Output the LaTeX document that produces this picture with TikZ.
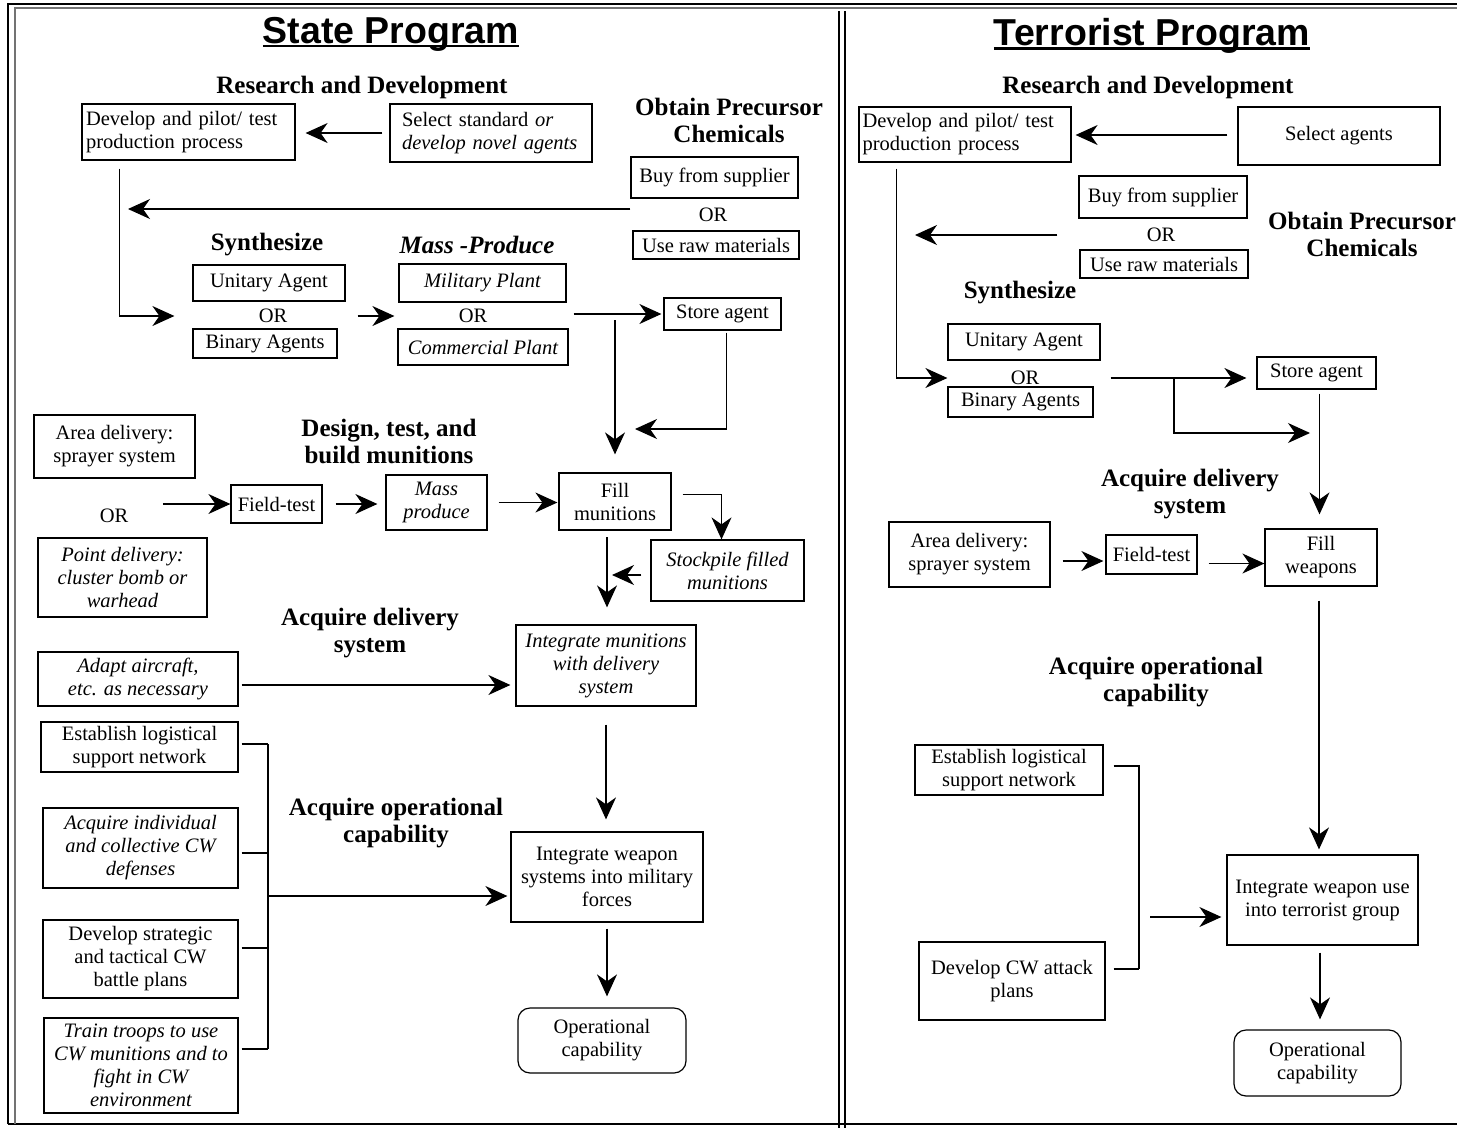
\documentclass[tikz,border=0pt]{standalone}
\usepackage{fontspec}
\setmainfont{Liberation Serif}
\newfontfamily\headsans{Liberation Sans}
\usetikzlibrary{arrows.meta}
\newcommand\titleline[1]{\setbox0\hbox{#1}\rlap{\rule[-4pt]{\wd0}{2.5pt}}\box0}

\begin{document}
\begin{tikzpicture}[x=1pt, y=-1pt,
    box/.style = {draw, line width=1.2pt, inner sep=2pt, align=center,
      font=\fontsize{20.5}{23}\selectfont},
    ibox/.style = {box, font=\fontsize{20.5}{23}\selectfont\itshape},
    rbox/.style = {box, rounded corners=12pt},
    head/.style = {align=center, font=\fontsize{25}{27}\selectfont\bfseries},
    ortext/.style = {font=\fontsize{20.5}{23}\selectfont},
    title/.style = {font=\headsans\bfseries\fontsize{37.5}{40}\selectfont},
    link/.style = {line width=1.2pt},
    arr/.style = {link, -{Stealth[length=22pt,width=20pt,inset=7pt]}}]
  \useasboundingbox (0,0) rectangle (1457,1130);
  \draw[line width=1.5pt] (8,1124) -- (8,4) -- (1460,4);
  \draw[line width=1.5pt] (8,1124) -- (1460,1124);
  \draw[line width=1.2pt, black!55] (15,1124) -- (15,8) -- (1460,8);
  \draw[line width=1.3pt] (839,11) -- (839,1128);
  \draw[line width=1.3pt] (845,11) -- (845,1128);

  \node[title] (stT) at (391,34) {\titleline{State Program}};
  \node[title] (trT) at (1152,36) {\titleline{Terrorist Program}};

  % state program
  \node[head] (rdS) at (362,87) {Research and Development};
  \node[head] (opcS) at (729,120) {Obtain Precursor\\Chemicals};
  \node[head] (synS) at (267,245) {Synthesize};
  \node[head] (mpS) at (477,245) {\itshape Mass -Produce};
  \node[head] (dtbS) at (389,441) {Design, test, and\\build munitions};
  \node[head] (adsS) at (370,633) {Acquire delivery\\system};
  \node[head] (aocS) at (396,823) {Acquire operational\\capability};

  \node[box, text width=205pt, align=left, minimum width=213, minimum height=56] (devS) at (188.5,132) {Develop and pilot/ test\\production process};
  \node[box, text width=178pt, align=left, minimum width=202, minimum height=58] (selS) at (491,133) {Select standard \textit{or}\\\textit{develop novel agents}};
  \node[box, minimum width=167, minimum height=41] (buyS) at (714.5,177.5) {Buy from supplier};
  \node[ortext] (orS1) at (713,215) {OR};
  \node[box, minimum width=166, minimum height=28] (rawS) at (716,245) {Use raw materials};
  \node[box, minimum width=152, minimum height=36] (uniS) at (269,283) {Unitary Agent};
  \node[ortext] (orS2) at (273,316) {OR};
  \node[box, minimum width=144, minimum height=29] (binS) at (265,343.5) {Binary Agents};
  \node[ibox, minimum width=167, minimum height=38] (milS) at (482.5,283) {Military Plant};
  \node[ortext] (orS3) at (473,316) {OR};
  \node[ibox, minimum width=170, minimum height=36] (comS) at (483,347) {Commercial Plant};
  \node[box, minimum width=117, minimum height=32] (storeS) at (722.5,314) {Store agent};
  \node[box, minimum width=161, minimum height=63] (areaS) at (114.5,446.5) {Area delivery:\\sprayer system};
  \node[ortext] (orS4) at (114,516) {OR};
  \node[ibox, minimum width=169, minimum height=79] (pointS) at (122.5,577.5) {Point delivery:\\cluster bomb or\\warhead};
  \node[box, minimum width=91, minimum height=38] (fieldS) at (276.5,504) {Field-test};
  \node[ibox, minimum width=101, minimum height=55] (mprodS) at (436.5,502.5) {Mass\\produce};
  \node[box, minimum width=112, minimum height=57] (fillS) at (615,501.5) {Fill\\munitions};
  \node[ibox, minimum width=153, minimum height=61] (stockS) at (727.5,570.5) {Stockpile filled\\munitions};
  \node[ibox, minimum width=200, minimum height=54] (adaptS) at (138,679) {Adapt aircraft,\\etc. as necessary};
  \node[ibox, minimum width=180, minimum height=81] (intmS) at (606,665.5) {Integrate munitions\\with delivery\\system};
  \node[box, minimum width=197, minimum height=50] (estS) at (139.5,747) {Establish logistical\\support network};
  \node[ibox, minimum width=195, minimum height=80] (indS) at (140.5,848) {Acquire individual\\and collective CW\\defenses};
  \node[box, minimum width=195, minimum height=78] (stratS) at (140.5,959) {Develop strategic\\and tactical CW\\battle plans};
  \node[ibox, minimum width=194, minimum height=95] (trainS) at (141,1065.5) {Train troops to use\\CW munitions and to\\fight in CW\\environment};
  \node[box, minimum width=192, minimum height=90] (intwS) at (607,877) {Integrate weapon\\systems into military\\forces};
  \node[rbox, minimum width=168, minimum height=65] (opS) at (602,1040.5) {Operational\\capability};

  \coordinate (preS) at (128,209);
  \coordinate (dropF) at (615,320);
  \coordinate (joinF) at (635,429);
  \coordinate (dropS) at (607,537);
  \coordinate (brS) at (268,896);

  \draw[arr, shorten <=7pt, shorten >=10pt] (selS.west) -- (selS.west -| devS.east);
  \draw[arr] (buyS.west |- preS) -- (preS);
  \draw[arr] ([xshift=38pt,yshift=-8pt]devS.south west) |- ([xshift=-18pt]uniS.west |- orS2);
  \draw[arr] ([xshift=12pt]uniS.east |- orS2) -- ([xshift=-4pt]milS.west |- orS2);
  \draw[arr, shorten >=2pt] ([xshift=5pt]comS.east |- storeS) -- (storeS.west);
  \draw[arr, shorten >=18pt] (dropF) -- (fillS.north);
  \draw[arr, shorten <=2pt] ([xshift=4pt]storeS.south) |- (joinF);
  \draw[arr] ([xshift=31pt]orS4.east |- fieldS) -- (fieldS.west);
  \draw[arr, shorten <=13pt, shorten >=8pt] (fieldS.east) -- (fieldS.east -| mprodS.west);
  \draw[arr, shorten <=11pt, shorten >=1pt] (mprodS.east) -- (mprodS.east -| fillS.west);
  \draw[arr] ([xshift=11pt,yshift=7pt]fillS.east) -| ([xshift=-6pt]stockS.north);
  \draw[arr, shorten >=17pt] (dropS) -- (dropS |- intmS.north);
  \draw[arr, shorten <=9pt, shorten >=5pt] ([yshift=-4.5pt]stockS.west) -- ([yshift=-4.5pt]stockS.west -| dropS);
  \draw[arr, shorten <=3pt, shorten >=5pt] ([yshift=-6pt]adaptS.east) -- ([yshift=-6pt]adaptS.east -| intmS.west);
  \draw[arr, shorten <=18pt, shorten >=12pt] (intmS.south) -- (intmS.south |- intwS.north);
  \draw[arr, shorten <=6pt, shorten >=11pt] (intwS.south) -- (intwS.south |- opS.north);
  \foreach \b/\yy in {estS/744, indS/853, stratS/948, trainS/1049}
    \draw[link, shorten <=3pt] (\b.east |- 0,\yy) -- (brS |- 0,\yy);
  \draw[link] (brS |- 0,744) -- (brS |- 0,1049);
  \draw[arr, shorten >=3pt] (brS) -- (brS -| intwS.west);

  % terrorist program
  \node[head] (rdT) at (1148,87) {Research and Development};
  \node[head] (opcT) at (1362,234) {Obtain Precursor\\Chemicals};
  \node[head] (synT) at (1020,293) {Synthesize};
  \node[head] (adsT) at (1190,494) {Acquire delivery\\system};
  \node[head] (aocT) at (1156,682) {Acquire operational\\capability};

  \node[box, text width=205pt, align=left, minimum width=212, minimum height=55] (devT) at (965,134.5) {Develop and pilot/ test\\production process};
  \node[box, minimum width=202, minimum height=58] (selT) at (1339,136) {Select agents};
  \node[box, minimum width=168, minimum height=42] (buyT) at (1163,197) {Buy from supplier};
  \node[ortext] (orT1) at (1161,235) {OR};
  \node[box, minimum width=168, minimum height=28] (rawT) at (1164,264) {Use raw materials};
  \node[box, minimum width=152, minimum height=36] (uniT) at (1024,342) {Unitary Agent};
  \node[ortext] (orT2) at (1025,378) {OR};
  \node[box, minimum width=145, minimum height=30] (binT) at (1020.5,402) {Binary Agents};
  \node[box, minimum width=119, minimum height=32] (storeT) at (1316.5,373) {Store agent};
  \node[box, minimum width=161, minimum height=65] (areaT) at (969.5,554.5) {Area delivery:\\sprayer system};
  \node[box, minimum width=91, minimum height=39] (fieldT) at (1151.5,554.5) {Field-test};
  \node[box, minimum width=112, minimum height=57] (fillT) at (1321,557.5) {Fill\\weapons};
  \node[box, minimum width=188, minimum height=50] (estT) at (1009,770) {Establish logistical\\support network};
  \node[box, minimum width=186, minimum height=78] (cwT) at (1012,981) {Develop CW attack\\plans};
  \node[box, minimum width=191, minimum height=90] (intT) at (1322.5,900) {Integrate weapon use\\into terrorist group};
  \node[rbox, minimum width=167, minimum height=66] (opT) at (1317.5,1063) {Operational\\capability};

  \coordinate (preT) at (915,235);
  \coordinate (forkT) at (1174,378);
  \coordinate (joinT) at (1310,433);
  \coordinate (brT) at (1139,917);

  \draw[arr, shorten <=10pt, shorten >=4pt] (selT.west |- 0,135) -- (devT.east |- 0,135);
  \draw[arr, shorten <=21pt] (buyT.west |- orT1) -- (preT);
  \draw[arr] ([xshift=38pt,yshift=-6pt]devT.south west) |- (uniT.west |- orT2);
  \draw[arr, shorten >=10pt] ([xshift=10pt]uniT.east |- orT2) -- (storeT.west |- orT2);
  \draw[arr] (forkT) |- (joinT);
  \draw[arr, shorten <=4pt, shorten >=14pt] ([xshift=3pt]storeT.south) -- ([xshift=3pt]storeT.south |- fillT.north);
  \draw[arr, shorten <=12pt, shorten >=2pt] ([yshift=-6.5pt]areaT.east) -- ([yshift=-6.5pt]areaT.east -| fieldT.west);
  \draw[arr, shorten <=11pt] ([yshift=-9pt]fieldT.east) -- ([yshift=-9pt]fieldT.east -| fillT.west);
  \draw[arr, shorten <=14pt, shorten >=5pt] ([xshift=-2pt]fillT.south) -- ([xshift=-2pt]fillT.south |- intT.north);
  \draw[link, shorten <=10pt] (estT.east |- 0,766) -| (brT |- 0,969);
  \draw[link, shorten <=8pt] (cwT.east |- 0,969) -- (brT |- 0,969);
  \draw[arr, shorten <=11pt, shorten >=5pt] (brT) -- (brT -| intT.west);
  \draw[arr, shorten <=7pt, shorten >=10pt] ([xshift=-2.5pt]intT.south) -- ([xshift=-2.5pt]intT.south |- opT.north);
\end{tikzpicture}
\end{document}
